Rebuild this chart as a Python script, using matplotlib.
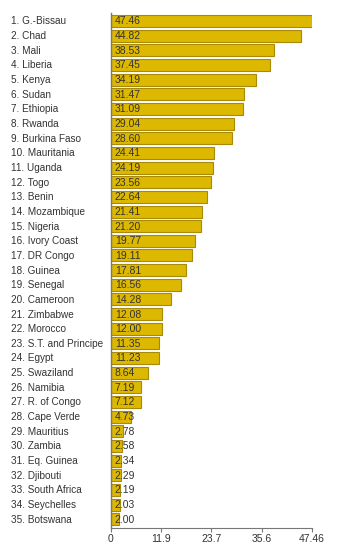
import matplotlib.pyplot as plt
from matplotlib.transforms import blended_transform_factory

plt.rcParams['font.family'] = ['Liberation Sans', 'DejaVu Sans']

# data
countries = ['G.-Bissau', 'Chad', 'Mali', 'Liberia', 'Kenya', 'Sudan', 'Ethiopia',
             'Rwanda', 'Burkina Faso', 'Mauritania', 'Uganda', 'Togo', 'Benin',
             'Mozambique', 'Nigeria', 'Ivory Coast', 'DR Congo', 'Guinea', 'Senegal',
             'Cameroon', 'Zimbabwe', 'Morocco', 'S.T. and Principe', 'Egypt',
             'Swaziland', 'Namibia', 'R. of Congo', 'Cape Verde', 'Mauritius',
             'Zambia', 'Eq. Guinea', 'Djibouti', 'South Africa', 'Seychelles',
             'Botswana']
values = [47.46, 44.82, 38.53, 37.45, 34.19, 31.47, 31.09, 29.04, 28.60, 24.41,
          24.19, 23.56, 22.64, 21.41, 21.20, 19.77, 19.11, 17.81, 16.56, 14.28,
          12.08, 12.00, 11.35, 11.23, 8.64, 7.19, 7.12, 4.73, 2.78, 2.58, 2.34,
          2.29, 2.19, 2.03, 2.00]
xticks = [0, 11.9, 23.7, 35.6, 47.46]
xtick_labels = ['0', '11.9', '23.7', '35.6', '47.46']

fig = plt.figure(figsize=(3.56, 5.5), dpi=100)
ax = fig.add_axes([111 / 356, 22 / 550, 201 / 356, 515 / 550])

pos = list(range(len(values)))
ax.barh(pos, values, height=0.82, color='#DDB800', edgecolor='#A88A08', linewidth=0.8)

ax.set_xlim(0, 47.46)
ax.set_ylim(len(values) - 0.4, -0.55)

# value labels inside bars, country labels on the left
trans = blended_transform_factory(fig.transFigure, ax.transData)
for i, (c, v) in enumerate(zip(countries, values)):
    ax.text(0.9, i + 0.03, f'{v:.2f}', va='center', ha='left', fontsize=7.5, color='#333333')
    ax.text(11 / 356, i + 0.03, f'{i + 1}. {c}', transform=trans, va='center', ha='left',
            fontsize=7.2, color='#333333')

ax.set_yticks([])
ax.set_xticks(xticks)
ax.set_xticklabels(xtick_labels, fontsize=7.5, color='#333333')
ax.tick_params(axis='x', length=3, width=0.8, color='#777777', pad=1.5)
for s in ['top', 'right']:
    ax.spines[s].set_visible(False)
ax.spines['left'].set_color('#777777')
ax.spines['bottom'].set_color('#777777')
ax.spines['left'].set_linewidth(1)
ax.spines['bottom'].set_linewidth(0.8)

fig.savefig('out.png', dpi=100)
